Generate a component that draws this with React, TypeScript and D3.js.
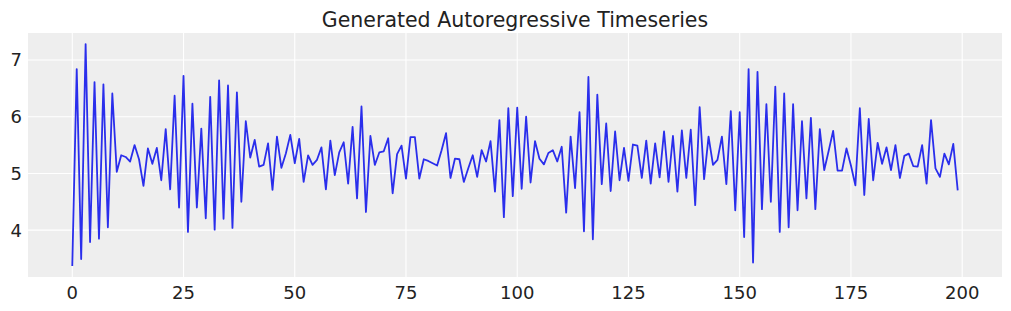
import React from "react";
import * as d3 from "d3";

const values: number[] = [
  3.37, 6.84, 3.49, 7.28, 3.79, 6.61, 3.85, 6.57, 4.05, 6.41,
  5.03, 5.32, 5.29, 5.21, 5.50, 5.25, 4.78, 5.44, 5.17, 5.45,
  4.88, 5.78, 4.72, 6.37, 4.40, 6.72, 3.97, 6.23, 4.40, 5.79,
  4.21, 6.35, 4.01, 6.64, 4.20, 6.55, 4.04, 6.43, 4.50, 5.92,
  5.28, 5.59, 5.12, 5.15, 5.53, 4.71, 5.65, 5.10, 5.35, 5.68,
  5.18, 5.61, 4.85, 5.32, 5.15, 5.24, 5.46, 4.72, 5.58, 4.97,
  5.37, 5.55, 4.82, 5.82, 4.56, 6.18, 4.32, 5.66, 5.15, 5.37,
  5.39, 5.62, 4.65, 5.34, 5.49, 4.91, 5.64, 5.64, 4.91, 5.25,
  5.22, 5.18, 5.14, 5.41, 5.71, 4.92, 5.26, 5.25, 4.85, 5.09,
  5.32, 4.94, 5.41, 5.21, 5.57, 4.68, 5.94, 4.23, 6.15, 4.60,
  6.16, 4.73, 6.00, 4.84, 5.57, 5.26, 5.16, 5.36, 5.41, 5.21,
  5.47, 4.31, 5.65, 4.74, 6.08, 3.98, 6.70, 3.84, 6.39, 4.81,
  5.88, 4.69, 5.74, 4.88, 5.45, 4.87, 5.51, 5.49, 4.92, 5.58,
  4.82, 5.53, 4.93, 5.74, 4.85, 5.66, 4.68, 5.76, 4.92, 5.77,
  4.44, 6.17, 4.90, 5.65, 5.15, 5.24, 5.65, 4.81, 6.10, 4.35,
  6.08, 3.88, 6.84, 3.43, 6.79, 4.37, 6.22, 4.50, 6.53, 3.97,
  6.41, 4.05, 6.22, 4.35, 5.92, 4.56, 5.98, 4.37, 5.78, 5.06,
  5.40, 5.75, 5.05, 5.05, 5.44, 5.14, 4.79, 6.15, 4.62, 5.96,
  4.88, 5.54, 5.17, 5.46, 5.06, 5.50, 4.92, 5.31, 5.35, 5.13,
  5.12, 5.50, 4.82, 5.94, 5.09, 4.94, 5.35, 5.16, 5.52, 4.70,
];

const xTicks: number[] = [0, 25, 50, 75, 100, 125, 150, 175, 200];
const yTicks: number[] = [4, 5, 6, 7];
const title = "Generated Autoregressive Timeseries";

export default function App() {
  const W = 1011;
  const H = 311;
  const left = 28;
  const right = 1002;
  const top = 33;
  const bottom = 277;

  const n = values.length;
  const xPad = (n - 1) * 0.05;
  const x = d3.scaleLinear().domain([-xPad, n - 1 + xPad]).range([left, right]);
  const [mn, mx] = d3.extent(values) as [number, number];
  const yPad = (mx - mn) * 0.05;
  const y = d3.scaleLinear().domain([mn - yPad, mx + yPad]).range([bottom, top]);

  const line = d3
    .line<number>()
    .x((_, i) => x(i))
    .y((d) => y(d));

  const font = "'DejaVu Sans', sans-serif";

  return (
    <svg
      width={W}
      height={H}
      style={{ position: "absolute", left: 0, top: 0, background: "#fff" }}
    >
      <rect x={left} y={top} width={right - left} height={bottom - top} fill="#eeeeee" />
      {xTicks.map((t) => (
        <line key={"gx" + t} x1={x(t)} x2={x(t)} y1={top} y2={bottom} stroke="#fff" strokeWidth={1.1} />
      ))}
      {yTicks.map((t) => (
        <line key={"gy" + t} x1={left} x2={right} y1={y(t)} y2={y(t)} stroke="#fff" strokeWidth={1.1} />
      ))}
      <path d={line(values) || ""} fill="none" stroke="#2a2eec" strokeWidth={1.8} strokeLinejoin="round" />
      {xTicks.map((t) => (
        <text
          key={"tx" + t}
          x={x(t)}
          y={298.5}
          textAnchor="middle"
          fontFamily={font}
          fontSize={18}
          fill="#222"
        >
          {t}
        </text>
      ))}
      {yTicks.map((t) => (
        <text
          key={"ty" + t}
          x={left - 6}
          y={y(t)}
          dy="0.36em"
          textAnchor="end"
          fontFamily={font}
          fontSize={18}
          fill="#222"
        >
          {t}
        </text>
      ))}
      <text
        x={(left + right) / 2}
        y={27}
        textAnchor="middle"
        fontFamily={font}
        fontSize={20.5}
        fill="#222"
      >
        {title}
      </text>
    </svg>
  );
}
